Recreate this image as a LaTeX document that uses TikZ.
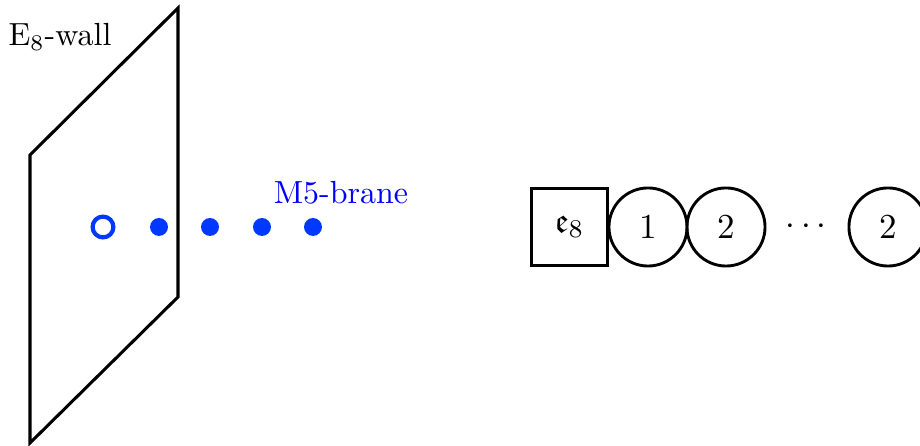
\documentclass[tikz,border=0pt]{standalone}
\usepackage{amssymb}
\definecolor{mblue}{RGB}{0,56,255}
\begin{document}
\begin{tikzpicture}[x=0.3125pt,y=-0.3125pt,
  wall/.style={line width=0.95pt,line join=miter},
  fdot/.style={circle,fill=mblue,inner sep=0pt,minimum size=5.6pt},
  odot/.style={circle,draw=mblue,line width=1.3pt,inner sep=0pt,minimum size=6.5pt},
  flav/.style={draw,line width=0.9pt,rectangle,minimum size=24pt,inner sep=0pt,font=\fontsize{11}{13}\selectfont},
  gauge/.style={draw,line width=0.9pt,circle,minimum size=24.4pt,inner sep=0pt,font=\fontsize{11}{13}\selectfont}]
\useasboundingbox (0,0) rectangle (920,446);
\coordinate (tl) at (30,155);
\coordinate (tr) at (178,8);
\coordinate (br) at (178,297);
\coordinate (bl) at (30,443);
\draw[wall] (tl) -- (tr) -- (br) -- (bl) -- cycle;
\node (wl) at (60,37) {E$_8$-wall};
\node[odot] (d0) at (103,227) {};
\node[fdot] (d1) at (159,227) {};
\node[fdot] (d2) at (210,227) {};
\node[fdot] (d3) at (262,227) {};
\node[fdot] (d4) at (313,227) {};
\node[text=blue] (ml) at (341,193) {M5-brane};
\node[flav] (e8) at (569.5,227) {$\mathfrak{e}_8$};
\node[gauge] (g1) at (648,227) {$1$};
\node[gauge] (g2) at (726,227) {$2$};
\node[font=\fontsize{11}{13}\selectfont] (cd) at (806,227) {$\cdots$};
\node[gauge] (g3) at (888,227) {$2$};
\end{tikzpicture}
\end{document}
